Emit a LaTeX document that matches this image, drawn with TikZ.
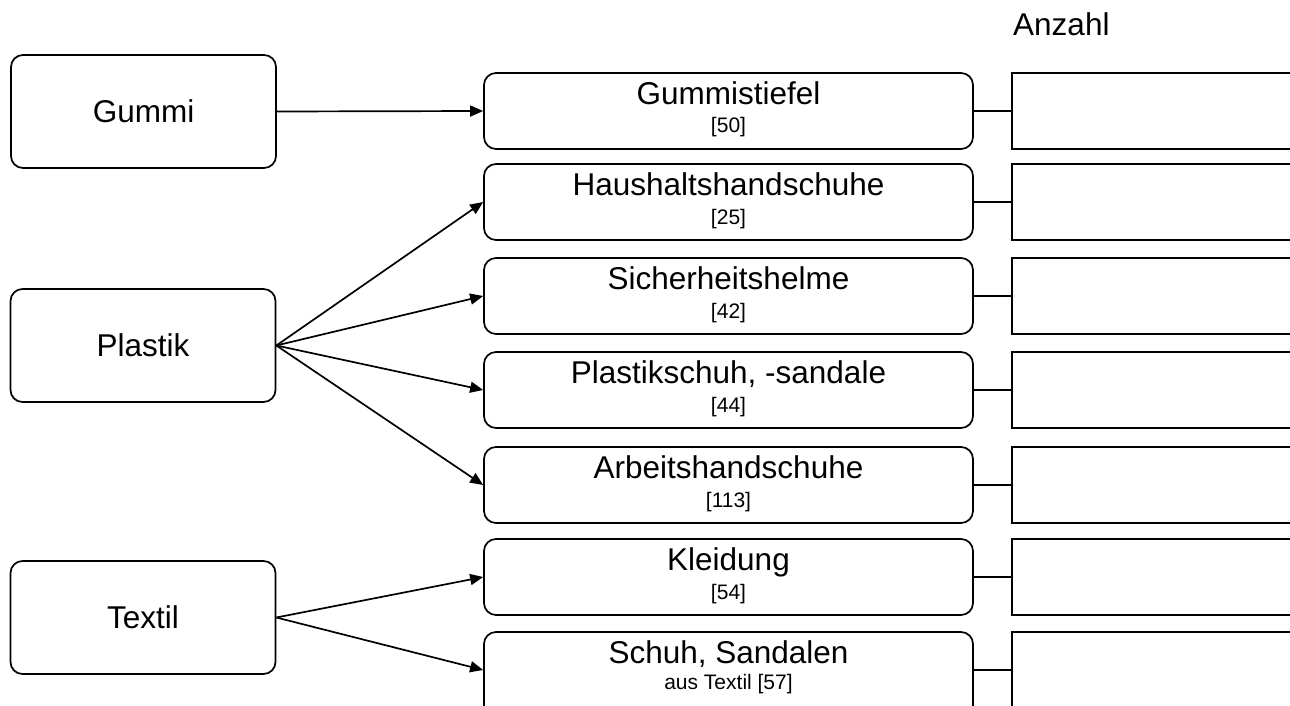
\documentclass[tikz,border=0pt]{standalone}
\usepackage{fontspec}
\setmainfont{Liberation Sans}
\usetikzlibrary{arrows.meta}
\tikzset{
  box/.style={draw, line width=1.7pt, rounded corners=12pt, inner sep=0pt},
  srcbox/.style={box, minimum width=265pt, minimum height=113pt},
  midbox/.style={box, minimum width=489pt, minimum height=76pt},
  cntbox/.style={draw, line width=1.7pt, inner sep=0pt, minimum width=300pt, minimum height=76pt},
  big/.style={inner sep=0pt, font=\fontsize{31.5}{36}\selectfont},
  small/.style={inner sep=0pt, font=\fontsize{21}{24}\selectfont},
  arr/.style={line width=1.7pt, -{Triangle[length=13pt,width=11pt]}},
  link/.style={line width=1.7pt}
}
\begin{document}
\begin{tikzpicture}[x=1pt,y=-1pt]
\clip (0,0) rectangle (1290,706);
\useasboundingbox (0,0) rectangle (1290,706);
% source boxes
\node[srcbox] (gummi) at (143.5,111.5) {};
\node[big] (gummit) at (gummi.center) {Gummi};
\node[srcbox] (plastik) at (143,345.5) {};
\node[big] (plastikt) at (plastik.center) {Plastik};
\node[srcbox] (textil) at (143,617.5) {};
\node[big] (textilt) at (textil.center) {Textil};
% count header
\node[big, anchor=base west] (anzahl) at (1013,36) {Anzahl};
% middle boxes
\foreach \i/\t/\s/\top in {1/Gummistiefel/{[50]}/73,
                          2/Haushaltshandschuhe/{[25]}/164,
                          3/Sicherheitshelme/{[42]}/258,
                          4/{Plastikschuh, -sandale}/{[44]}/352,
                          5/Arbeitshandschuhe/{[113]}/447,
                          6/Kleidung/{[54]}/539}{
  \node[midbox] (m\i) at (728.5,\top+38) {};
  \node[big, anchor=base] (m\i t) at (728.5,\top+31.5) {\t};
  \node[small, anchor=base] (m\i s) at (728.5,\top+60) {\s};
  \node[cntbox] (r\i) at (1162,\top+38) {};
  \draw[link] (m\i.east) -- (r\i.west);
}
\node[midbox, minimum height=90pt] (m7) at (728.5,632+45) {};
\node[big, anchor=base] (m7t) at (728.5,663) {Schuh, Sandalen};
\node[small, anchor=base] (m7s) at (728.5,689) {aus Textil [57]};
\node[cntbox, minimum height=90pt] (r7) at (1162,632+45) {};
\draw[link] (m7.east|-0,670) coordinate (m7e) -- (r7.west|-0,670);
% arrows
\draw[arr] (gummi.east) -- (m1.west);
\draw[arr] (plastik.east) -- (m2.west);
\draw[arr] (plastik.east) -- (m3.west);
\draw[arr] (plastik.east) -- (m4.west);
\draw[arr] (plastik.east) -- (m5.west);
\draw[arr] (textil.east) -- (m6.west);
\draw[arr] (textil.east) -- (m7.west|-0,670);
\end{tikzpicture}
\end{document}
